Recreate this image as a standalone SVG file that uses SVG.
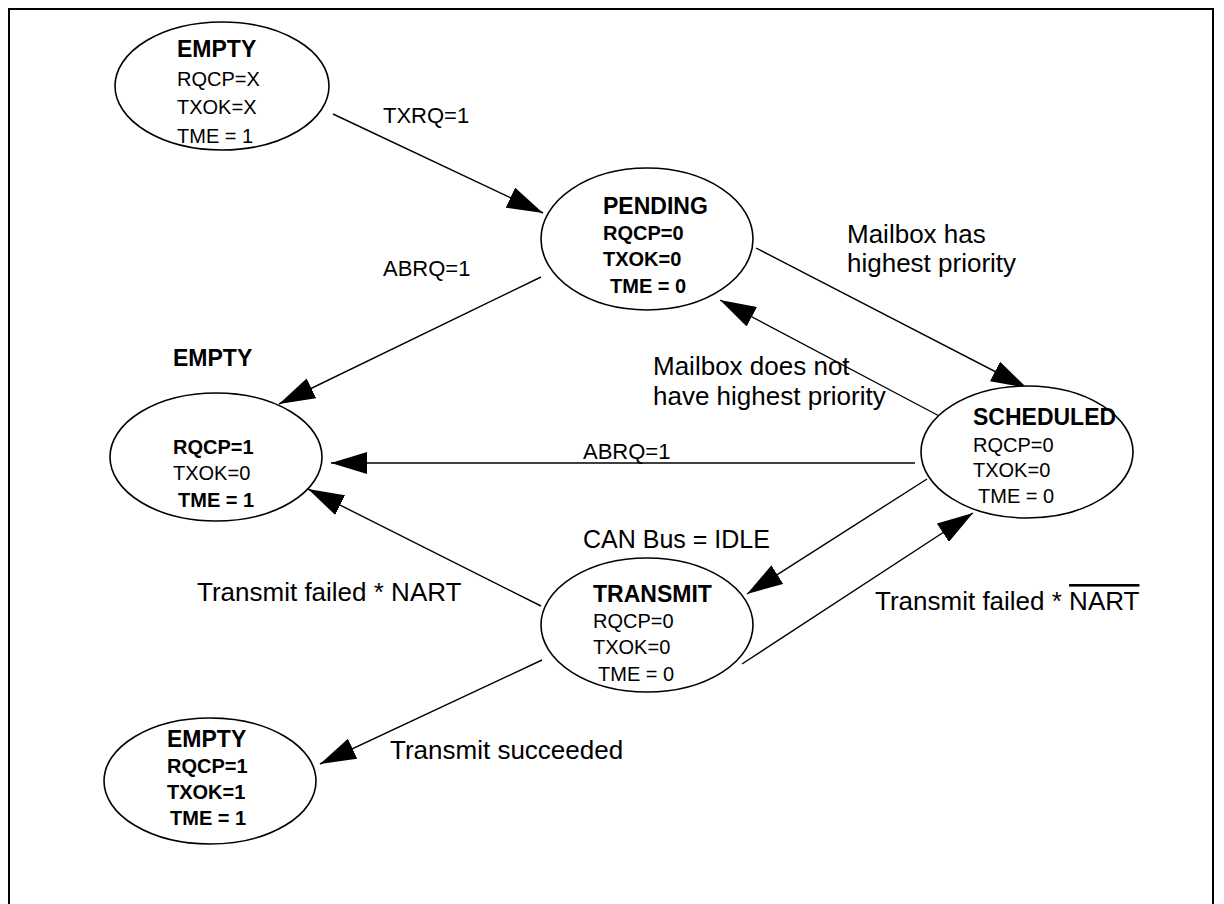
<svg xmlns="http://www.w3.org/2000/svg" width="1224" height="904" viewBox="0 0 1224 904">
<defs>
<marker id="arr" markerUnits="userSpaceOnUse" markerWidth="36" markerHeight="22" viewBox="0 0 36 22" refX="36" refY="11" orient="auto">
<path d="M0,0 L36,11 L0,22 z" fill="#000"/>
</marker>
</defs>
<style>
.st{fill:#fff;stroke:#000;stroke-width:1.6}
.h{font-family:"Liberation Sans",Arial,sans-serif;font-weight:bold;font-size:23px;fill:#000}
.r{font-family:"Liberation Sans",Arial,sans-serif;font-size:20px;fill:#000}
.b{font-family:"Liberation Sans",Arial,sans-serif;font-size:20px;font-weight:bold;fill:#000}
.l{font-family:"Liberation Sans",Arial,sans-serif;font-size:22px;fill:#000}
.L{font-family:"Liberation Sans",Arial,sans-serif;font-size:26px;fill:#000}
.c{fill:none;stroke:#000;stroke-width:1.4;marker-end:url(#arr)}
</style>
<rect x="0" y="0" width="1224" height="904" fill="#fff"/>
<rect x="9" y="9" width="1204" height="930" fill="none" stroke="#000" stroke-width="2"/>

<g id="connectors">
<line class="c" x1="333" y1="114" x2="543" y2="213"/>
<line class="c" x1="541" y1="277" x2="279" y2="404"/>
<line class="c" x1="756" y1="248" x2="1027" y2="388"/>
<line class="c" x1="943" y1="418" x2="720" y2="300"/>
<line class="c" x1="915" y1="463" x2="331" y2="463"/>
<line class="c" x1="927" y1="479" x2="747" y2="594"/>
<line class="c" x1="541" y1="606" x2="308" y2="489"/>
<line class="c" x1="742" y1="664" x2="973" y2="513"/>
<line class="c" x1="542" y1="660" x2="320" y2="764"/>
<text class="l" x="383" y="123">TXRQ=1</text>
<text class="l" x="383" y="276">ABRQ=1</text>
<text class="L" x="847" y="243">Mailbox has</text>
<text class="L" x="847" y="272">highest priority</text>
<text class="L" x="653" y="375">Mailbox does not</text>
<text class="L" x="653" y="405">have highest priority</text>
<text class="l" x="583" y="459">ABRQ=1</text>
<text class="L" x="583" y="548" style="font-size:25px">CAN Bus = IDLE</text>
<text class="L" x="197" y="601">Transmit failed * NART</text>
<text class="L" x="875" y="610">Transmit failed * <tspan text-decoration="overline">NART</tspan></text>
<text class="L" x="390" y="759">Transmit succeeded</text>
</g>

<g id="empty-top">
<ellipse class="st" cx="222" cy="86" rx="107" ry="64"/>
<text class="h" x="177" y="57">EMPTY</text>
<text class="r" x="177" y="86">RQCP=X</text>
<text class="r" x="177" y="114">TXOK=X</text>
<text class="r" x="177" y="143">TME = 1</text>
</g>

<g id="pending">
<ellipse class="st" cx="647" cy="239" rx="106" ry="71"/>
<text class="h" x="603" y="214">PENDING</text>
<text class="b" x="603" y="240">RQCP=0</text>
<text class="b" x="603" y="266">TXOK=0</text>
<text class="b" x="610" y="293">TME = 0</text>
</g>

<g id="scheduled">
<ellipse class="st" cx="1027" cy="452" rx="106" ry="66"/>
<text class="h" x="973" y="425">SCHEDULED</text>
<text class="r" x="973" y="452">RQCP=0</text>
<text class="r" x="973" y="477">TXOK=0</text>
<text class="r" x="978" y="503">TME = 0</text>
</g>

<g id="empty-mid">
<text class="h" x="173" y="366">EMPTY</text>
<ellipse class="st" cx="216" cy="457" rx="106" ry="64"/>
<text class="b" x="173" y="454">RQCP=1</text>
<text class="r" x="173" y="480">TXOK=0</text>
<text class="b" x="178" y="507">TME = 1</text>
</g>

<g id="transmit">
<ellipse class="st" cx="647" cy="625" rx="106" ry="67"/>
<text class="h" x="593" y="602">TRANSMIT</text>
<text class="r" x="593" y="628">RQCP=0</text>
<text class="r" x="593" y="654">TXOK=0</text>
<text class="r" x="598" y="681">TME = 0</text>
</g>

<g id="empty-bottom">
<ellipse class="st" cx="210" cy="781" rx="106" ry="63"/>
<text class="h" x="167" y="747">EMPTY</text>
<text class="b" x="167" y="773">RQCP=1</text>
<text class="b" x="167" y="799">TXOK=1</text>
<text class="b" x="170" y="825">TME = 1</text>
</g>
</svg>
